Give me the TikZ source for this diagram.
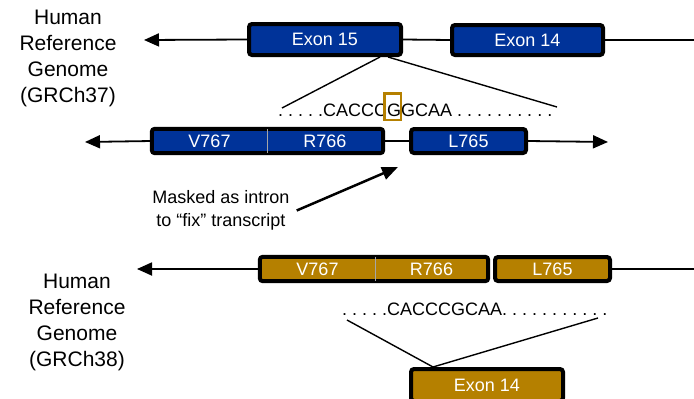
\documentclass[tikz,border=0pt]{standalone}
\usepackage{fontspec}
\setmainfont{Liberation Sans}
\usetikzlibrary{arrows.meta}
\definecolor{exonblue}{RGB}{0,51,153}
\definecolor{exongold}{RGB}{181,128,0}
\frenchspacing

\begin{document}
\begin{tikzpicture}[x=1pt,y=-1pt,
	gline/.style={line width=1.8pt},
	gtip/.style={-{Triangle[length=15pt,width=13pt]}},
	exon/.style={draw=black, line width=4pt, rounded corners=3pt, inner sep=0pt, text=white, font=\fontsize{18}{20}\selectfont},
	exonpart/.style={inner sep=0pt, text=white, font=\fontsize{18}{20}\selectfont, minimum height=24pt},
	exonframe/.style={draw=black, line width=4pt, rounded corners=3pt},
	seqtext/.style={anchor=base west, inner sep=0pt, font=\fontsize{18}{20}\selectfont},
	sidelabel/.style={align=center, inner sep=0pt, font=\fontsize{21}{26}\selectfont}]
		\useasboundingbox (0,0) rectangle (694,399);

		% GRCh37
		\node[sidelabel] (lab37) at (68,58) {Human\\Reference\\Genome\\(GRCh37)};
		\coordinate (tip37) at (144,40);
		\coordinate (end37) at (700,40);
		\node[exon, fill=exonblue, minimum width=152pt, minimum height=31pt] (ex15) at (325,39.5) {Exon 15};
		\node[exon, fill=exonblue, minimum width=151pt, minimum height=30pt] (ex14) at (527.5,40) {Exon 14};
		\draw[gline, gtip] (ex15.west) -- (tip37);
		\draw[gline] (ex15.east) -- (ex14.west);
		\draw[gline] (ex14.east) -- (end37);

		\coordinate (fanA) at (380,57);
		\coordinate (fanB) at (388,57);
		\coordinate (fanC) at (282,108);
		\coordinate (fanD) at (557,107);
		\draw[line width=1.4pt] (fanA) -- (fanC);
		\draw[line width=1.4pt] (fanB) -- (fanD);
		\node[seqtext] (seq37) at (278,116) {. . . . .CACCCGGCAA . . . . . . . . . .};
		\node[draw=exongold, line width=2.5pt, inner sep=0pt, minimum width=16.5pt, minimum height=26.5pt] (snv) at (392.5,106.5) {};

		% fixed transcript
		\coordinate (tipL) at (85,142);
		\coordinate (tipR) at (608,142);
		\node[exonpart, fill=exonblue, minimum width=115pt] (v37) at (209.5,141) {V767};
		\node[exonpart, fill=exonblue, minimum width=116pt] (r37) at (325,141) {R766};
		\draw[exonframe] (v37.north west) rectangle (r37.south east);
		\draw[gray!70, line width=0.6pt] (v37.north east) -- (v37.south east);
		\node[exon, fill=exonblue, minimum width=115pt, minimum height=24pt] (l37) at (468.5,141) {L765};
		\draw[gline, gtip] (v37.west) -- (tipL);
		\draw[gline] (r37.east) -- (l37.west);
		\draw[gline, gtip] (l37.east) -- (tipR);

		\node[align=center, inner sep=0pt, font=\fontsize{18}{23}\selectfont] (mask) at (221,210.5) {Masked as intron\\to “fix” transcript};
		\coordinate (gap) at (398,167);
		\draw[line width=2.5pt, -{Triangle[length=16pt,width=13pt]}] ([xshift=7pt]mask.east) -- (gap);

		% GRCh38
		\node[sidelabel] (lab38) at (77,322) {Human\\Reference\\Genome\\(GRCh38)};
		\coordinate (tip38) at (137,269);
		\coordinate (end38) at (700,269);
		\node[exonpart, fill=exongold, minimum width=115pt] (v38) at (317.5,269) {V767};
		\node[exonpart, fill=exongold, minimum width=113pt] (r38) at (431.5,269) {R766};
		\draw[exonframe] (v38.north west) rectangle (r38.south east);
		\draw[gray!70, line width=0.6pt] (v38.north east) -- (v38.south east);
		\node[exon, fill=exongold, minimum width=115pt, minimum height=24pt] (l38) at (552.5,269) {L765};
		\draw[gline, gtip] (v38.west) -- (tip38);
		\draw[gline] (l38.east) -- (end38);

		\node[seqtext] (seq38) at (342,315) {. . . . .CACCCGCAA. . . . . . . . . . .};
		\coordinate (fanE) at (347,320);
		\coordinate (fanF) at (598,318);
		\node[exon, fill=exongold, minimum width=152pt, minimum height=32pt] (ex14b) at (487,385) {Exon 14};
		\coordinate (apex) at (433,367);
		\draw[line width=1.4pt] (fanE) -- (apex) -- (fanF);
\end{tikzpicture}
\end{document}
